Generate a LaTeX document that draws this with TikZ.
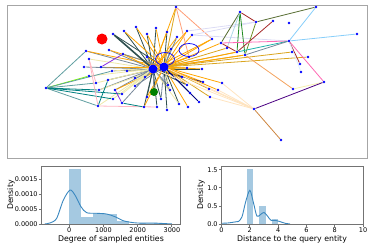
\documentclass[tikz,border=0pt]{standalone}
\usepackage{fontspec}
\setmainfont{DejaVu Sans}
\usetikzlibrary{shapes.geometric,backgrounds}
\definecolor{orng}{HTML}{FFA500}
\definecolor{gold}{HTML}{DAA520}
\definecolor{dslate}{HTML}{2F4F4F}
\definecolor{gry}{HTML}{778899}
\definecolor{khk}{HTML}{EEE8AA}
\definecolor{ltpink}{HTML}{FFB6C1}
\definecolor{hotpink}{HTML}{FF69B4}
\definecolor{cadet}{HTML}{5F9EA0}
\definecolor{teal}{HTML}{008080}
\definecolor{lawngrn}{HTML}{7CFC00}
\definecolor{violet}{HTML}{8A2BE2}
\definecolor{brwn}{HTML}{A52A2A}
\definecolor{dolive}{HTML}{556B2F}
\definecolor{fgreen}{HTML}{228B22}
\definecolor{olive}{HTML}{6B8E23}
\definecolor{ltblue}{HTML}{ADD8E6}
\definecolor{ltsky}{HTML}{87CEFA}
\definecolor{lsea}{HTML}{20B2AA}
\definecolor{indigo}{HTML}{4B0082}
\definecolor{peru}{HTML}{CD853F}
\definecolor{sandy}{HTML}{F4A460}
\definecolor{lavender}{HTML}{DCDCF5}
\definecolor{salmon}{HTML}{FFA07A}
\definecolor{papaya}{HTML}{FFE4C0}
\definecolor{ltyel}{HTML}{F5F0B0}
\definecolor{alice}{HTML}{DDEEFF}
\definecolor{navyb}{HTML}{000080}
\definecolor{kdeblue}{HTML}{3A88C0}
\definecolor{barblue}{HTML}{A5C9E1}
\begin{document}
\begin{tikzpicture}[x=1pt, y=-1pt,
  dot/.style={circle, fill=blue, inner sep=0pt, minimum size=2.8pt},
  hub/.style={circle, fill=blue, inner sep=0pt, minimum size=9pt},
  ring/.style={ellipse, draw=blue, line width=0.7pt, inner sep=0pt, minimum width=19pt, minimum height=13pt},
  link/.style={line width=0.8pt},
  spine/.style={draw=black!55, line width=0.8pt},
  tick/.style={font=\fontsize{6.5}{7}\selectfont, inner sep=1pt},
  axlabel/.style={font=\fontsize{7.8}{9}\selectfont, inner sep=0pt},
  kde/.style={draw=kdeblue, line width=0.9pt}]
\useasboundingbox (0,0) rectangle (371,247);

% network panel
\draw[black!35, line width=1pt] (7,5) rectangle (367,158);
\foreach \n/\x/\y in {a1/136/27, a2/156/28, a3/113/34, a4/124/31, a5/147/34, a6/167/32,
  a7/187/31, a8/192/35, a9/177/37, a10/86/51, a11/109/50, a12/123/54, a13/147/57,
  a14/171/49, a15/189/57, a16/89/59, a17/101/67, a18/84/67, a19/127/71, a20/112/71,
  a21/187/68, a22/202/69, a23/89/76, a24/108/80, a25/135/78, a26/145/77, a27/182/77,
  a28/203/82, a29/222/83, a30/96/83, a31/46/88, a32/99/90, a33/115/90, a34/135/86,
  a35/168/85, a36/187/85, a37/209/89, a38/218/90, a39/122/94, a40/147/97, a41/170/90,
  a42/190/93, a43/210/97, a44/113/99, a45/122/103, a46/161/99, a47/179/104,
  a48/188/107, a49/199/102, a50/98/106, a51/144/107, a52/157/107, a53/167/110,
  t/176/7, b1/212/39, b2/221/43, b3/227/48, b4/237/52, b5/245/55, b6/240/12,
  b7/256/22, b8/273/21, b9/289/23, b10/316/7, b11/357/34, b12/289/41, b13/292/52,
  b14/308/57, b15/300/64, b16/301/72, b17/324/82, b18/293/89, b19/254/109, b20/281/140}
  \node[dot] (\n) at (\x,\y) {};
\node[circle, fill=red, inner sep=0pt, minimum size=11pt] (query) at (102,39) {};
\node[circle, fill=green!50!black, inner sep=0pt, minimum size=8pt] (seed) at (154,92) {};
\node[hub] (h1) at (153,69) {};
\node[hub] (h2) at (164,67) {};
\node[ring] (ring1) at (165,59) {};
\node[ring, minimum width=20pt] (ring2) at (189,50) {};

\begin{scope}[on background layer]
\foreach \a/\b/\c in {a1/h1/dslate, a1/h2/orng, a2/h1/dslate, a2/h2/orng, a3/h2/dslate,
  a4/h1/dslate, a4/h2/orng, a5/h1/dslate, a5/h2/orng, a6/h1/orng, a6/h2/dslate,
  a7/h1/orng, a7/h2/orng, a8/h2/orng, a9/h1/orng, a9/h2/gry, a10/h1/gry, a10/h2/orng,
  a11/h1/gry, a11/h2/orng, a12/h1/orng, a12/h2/gry, a13/h1/gry, a13/h2/orng,
  a14/h1/orng, a14/h2/gry, a15/h1/orng, a15/h2/orng, a16/h1/khk, a17/h1/khk,
  a17/h2/orng, a18/h1/gry, a19/h1/gry, a19/h2/khk, a20/h1/gry, a20/h2/khk,
  a21/h2/orng, a21/h1/gold, a22/h2/orng, a22/h1/dslate, a23/h1/khk, a24/h1/khk,
  a24/h2/gry, a25/h1/gry, a25/h2/khk, a26/h1/gry, a26/h2/orng, a27/h2/orng,
  a27/h1/dslate, a28/h2/orng, a28/h1/navyb, a29/h2/orng, a30/h1/khk, a32/h1/gry,
  a32/h2/khk, a33/h1/gry, a33/h2/orng, a34/h1/khk, a34/h2/gry, a35/h1/gry,
  a35/h2/dslate, a36/h2/orng, a36/h1/dslate, a37/h2/gold, a38/h2/orng, a39/h1/khk,
  a40/h1/dslate, a40/h2/orng, a41/h1/gry, a41/h2/khk, a42/h2/dslate, a43/h2/gold,
  a44/h1/khk, a45/h1/gry, a46/h1/dslate, a46/h2/gry, a47/h2/dslate, a47/h1/khk,
  a48/h2/orng, a49/h2/navyb, a50/h1/khk, a51/h1/dslate, a51/h2/orng, a52/h1/dslate,
  a53/h2/dslate, seed/h1/gry, t/h1/orng, t/h2/gold, t/b1/salmon, t/a15/salmon,
  b1/h1/orng, b1/h2/orng, b2/h2/orng, b3/h2/gold, b4/h2/gold, b4/h1/orng,
  b5/h2/gold, b5/h1/orng, b13/h2/gold, b14/h2/gold,
  b19/h1/papaya, b19/h2/papaya, a29/b19/papaya, a38/b19/papaya, a43/b19/papaya,
  a37/b19/papaya, a7/b7/lavender, a8/b7/lavender, a8/b12/lavender,
  a31/a10/cadet, a31/a23/lawngrn, a31/a30/cadet, a31/a32/teal, a31/a39/teal,
  a31/a50/cadet, a31/a20/cadet, a31/a44/teal, a16/a50/ltpink, a16/a30/ltpink,
  a50/a52/ltpink, a17/a12/violet, a33/a45/violet, a45/a51/teal, a24/a50/teal,
  b6/b7/brwn, b6/b2/dolive, b6/b4/fgreen, b6/b5/fgreen, b6/b3/ltblue,
  b7/b10/dolive, b7/b5/olive, b8/b4/brwn, b10/b12/ltsky, b12/b11/ltsky,
  b2/b12/hotpink, b2/b4/brwn, b4/b12/lsea, b5/b12/gry, b12/b17/hotpink,
  b12/b15/brwn, b12/b16/alice, b17/b18/ltyel, b17/b19/indigo, b19/b20/peru,
  b5/b18/sandy}
  \draw[link, \c] (\a) -- (\b);
\draw[link, dslate, line width=1.6pt] (a3) -- (h1);
\end{scope}

% degree histogram
\begin{scope}[shift={(69.3,224)}, x=0.0342pt, y=2.98pt]
\foreach \l/\r/\h in {0/346/18.6, 346/693/2.45, 693/1040/3.6, 1040/1386/3.25,
  1386/1733/1.0, 2079/2426/0.4, 2426/2772/0.35}
  \fill[barblue] (\l,0) rectangle (\r,\h);
\draw[kde] plot[smooth] coordinates {(-720,0) (-550,0.4) (-370,1.9) (-175,8)
  (20,11.4) (167,9.7) (342,5.8) (508,3.8) (800,3.6) (1094,3.35) (1336,2.45)
  (1580,1.1) (1870,0.45) (2100,0.3) (2400,0.35) (2700,0.2) (3000,0.02)};
\draw[spine] (-813,0) rectangle (3251,19.46);
\foreach \v in {0,1000,2000,3000}
  \draw[spine] (\v,0) -- ++(0pt,-2.5pt) node[below, tick] {\v};
\foreach \v/\t in {0/0.0000, 5/0.0005, 10/0.0010, 15/0.0015}
  \draw[spine] (-813,\v) -- ++(-2.5pt,0pt) node[left, tick] {\t};
\end{scope}
\node[axlabel, rotate=90] (ydeg) at (11,195) {Density};
\node[axlabel] (xdeg) at (111,239) {Degree of sampled entities};

% distance histogram
\begin{scope}[shift={(221.5,224)}, x=14.15pt, y=36.2pt]
\foreach \l/\r/\h in {1.78/2.22/1.53, 2.67/3.11/0.50, 3.56/4.0/0.13}
  \fill[barblue] (\l,0) rectangle (\r,\h);
\draw[kde] plot[smooth] coordinates {(0,0.02) (0.5,0.03) (1.0,0.06) (1.2,0.07)
  (1.45,0.2) (1.7,0.6) (2.0,0.93) (2.25,0.6) (2.5,0.22) (2.75,0.26) (3.0,0.32)
  (3.25,0.22) (3.5,0.1) (3.8,0.1) (4.1,0.07) (4.5,0.02) (4.85,0)};
\draw[spine] (0,0) rectangle (10,1.6);
\foreach \v in {0,2,...,10}
  \draw[spine] (\v,0) -- ++(0pt,-2.5pt) node[below, tick] {\v};
\foreach \v in {0.0,0.5,1.0,1.5}
  \draw[spine] (0,\v) -- ++(-2.5pt,0pt) node[left, tick] {\v};
\end{scope}
\node[axlabel, rotate=90] (ydist) at (201,195) {Density};
\node[axlabel] (xdist) at (292,239) {Distance to the query entity};
\end{tikzpicture}
\end{document}
